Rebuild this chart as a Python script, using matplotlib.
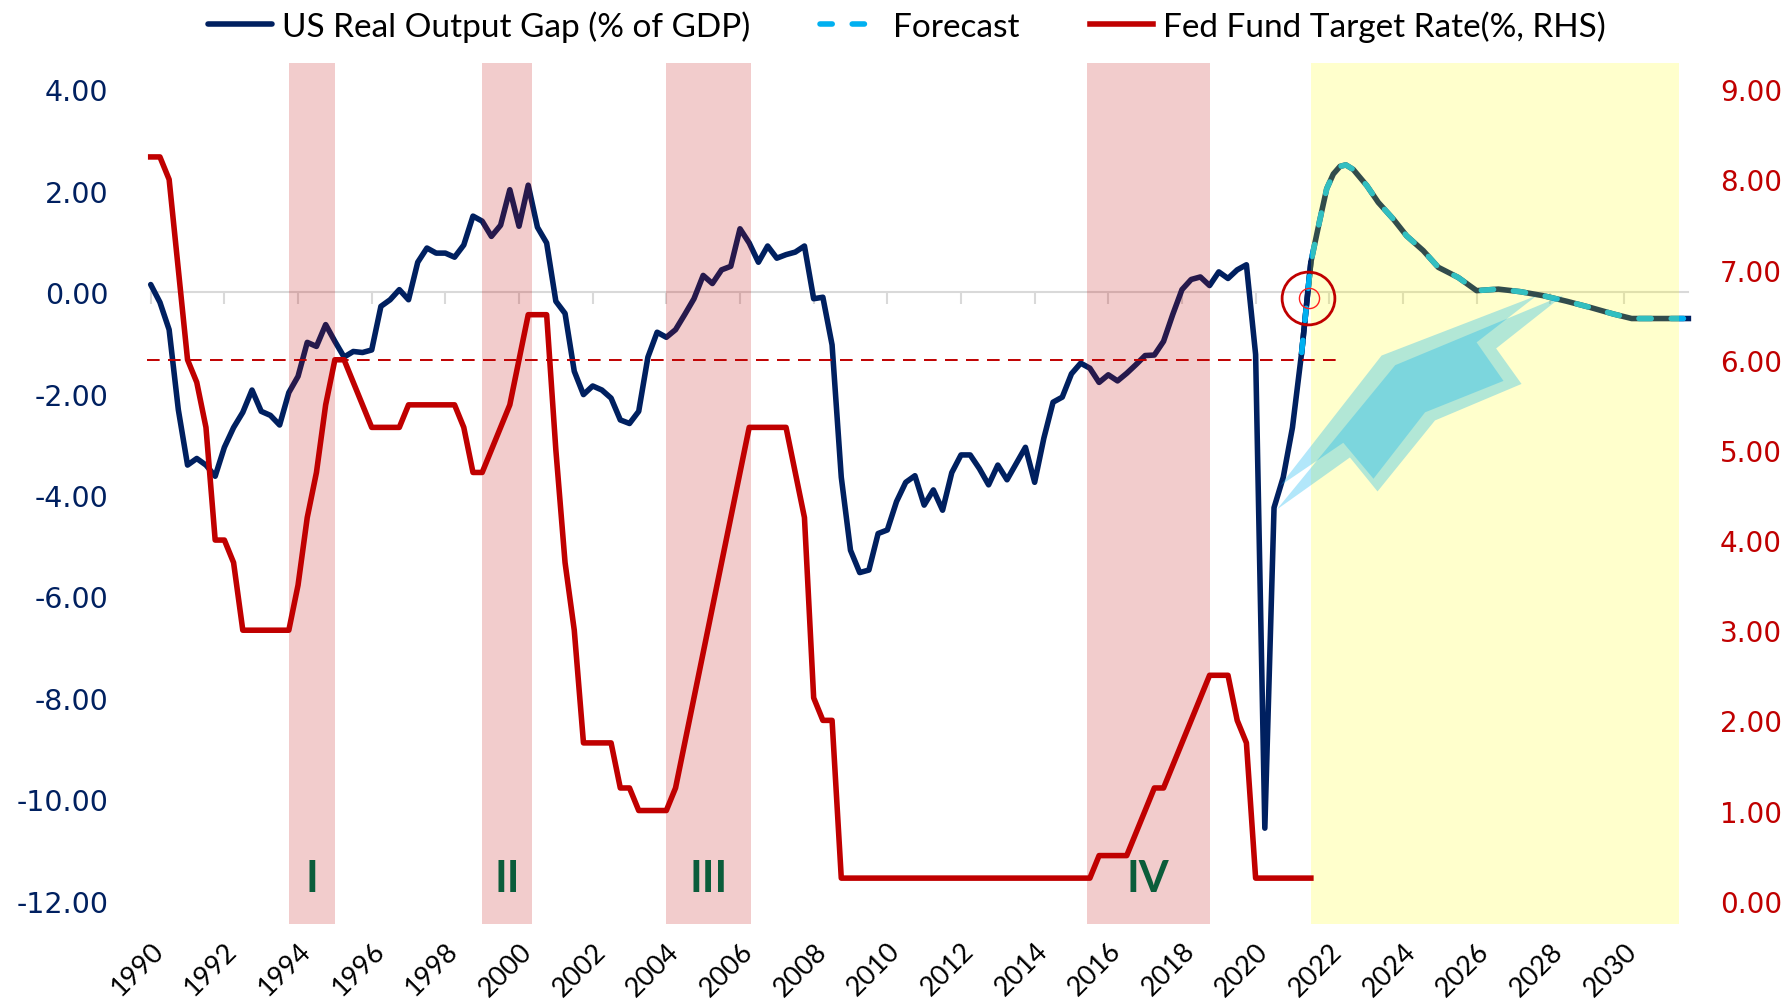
import numpy as np
import matplotlib.pyplot as plt
from matplotlib.patches import Polygon
from matplotlib.ticker import FuncFormatter

plt.rcParams['axes.unicode_minus'] = False

# US real output gap, % of GDP, quarterly from 1990Q1 to 2021Q3
gap_start = 1990.0
gap_hist = [
    0.15, -0.20, -0.74, -2.32,    # 1990
    -3.41, -3.28, -3.41, -3.63,   # 1991
    -3.06, -2.67, -2.37, -1.93,   # 1992
    -2.35, -2.43, -2.62, -1.98,   # 1993
    -1.66, -0.99, -1.07, -0.64,   # 1994
    -0.97, -1.28, -1.17, -1.19,   # 1995
    -1.14, -0.28, -0.15, 0.05,    # 1996
    -0.15, 0.59, 0.87, 0.77,      # 1997
    0.77, 0.69, 0.93, 1.50,       # 1998
    1.40, 1.10, 1.32, 2.02,       # 1999
    1.30, 2.11, 1.28, 0.97,       # 2000
    -0.18, -0.42, -1.56, -2.02,   # 2001
    -1.85, -1.93, -2.09, -2.52,   # 2002
    -2.59, -2.35, -1.28, -0.79,   # 2003
    -0.89, -0.74, -0.44, -0.13,   # 2004
    0.33, 0.17, 0.44, 0.51,       # 2005
    1.25, 0.97, 0.59, 0.91,       # 2006
    0.67, 0.74, 0.79, 0.91,       # 2007
    -0.13, -0.10, -1.04, -3.65,   # 2008
    -5.09, -5.53, -5.48, -4.76,   # 2009
    -4.69, -4.13, -3.75, -3.62,   # 2010
    -4.20, -3.90, -4.30, -3.56,   # 2011
    -3.21, -3.21, -3.48, -3.80,   # 2012
    -3.41, -3.70, -3.38, -3.06,   # 2013
    -3.75, -2.88, -2.17, -2.07,   # 2014
    -1.61, -1.40, -1.50, -1.78,   # 2015
    -1.63, -1.75, -1.60, -1.43,   # 2016
    -1.25, -1.24, -0.97, -0.44,   # 2017
    0.05, 0.25, 0.30, 0.13,       # 2018
    0.40, 0.27, 0.44, 0.54,       # 2019
    -1.23, -10.57, -4.25, -3.65,  # 2020
    -2.67, -1.19, 0.59,           # 2021
]

# forecast path of the output gap
fc_years = [2021.25, 2021.5, 2021.73, 2021.93, 2022.11, 2022.29, 2022.45, 2022.65,
            2023.02, 2023.33, 2023.74, 2024.10, 2024.55, 2024.96, 2025.5, 2026.0,
            2026.59, 2027.18, 2027.81, 2028.45, 2029.08, 2029.71, 2030.21, 2030.8, 2031.75]
fc_values = [-1.19, 0.59, 1.38, 2.04, 2.33, 2.48, 2.51, 2.42,
             2.10, 1.77, 1.44, 1.11, 0.82, 0.49, 0.29, 0.03,
             0.06, 0.01, -0.07, -0.18, -0.30, -0.43, -0.52, -0.52, -0.52]

# Fed fund target rate (%), right axis
fed_years = [1990.0, 1990.25, 1990.5, 1991.0, 1991.25, 1991.5, 1991.75, 1992.0, 1992.25, 1992.5,
             1993.75, 1994.0, 1994.25, 1994.5, 1994.75, 1995.0, 1995.25, 1995.5, 1996.0, 1996.75,
             1997.0, 1998.25, 1998.5, 1998.75, 1999.0, 1999.25, 1999.75, 2000.25, 2000.75, 2001.0,
             2001.25, 2001.5, 2001.75, 2002.5, 2002.75, 2003.0, 2003.25, 2004.0, 2004.25, 2004.5,
             2004.75, 2006.25, 2007.25, 2007.75, 2008.0, 2008.25, 2008.5, 2008.75, 2015.5, 2015.75,
             2016.5, 2016.75, 2017.25, 2017.5, 2017.75, 2018.75, 2019.25, 2019.5, 2019.75, 2020.0,
             2021.5]
fed_values = [8.25, 8.25, 8.0, 6.0, 5.75, 5.25, 4.0, 4.0, 3.75, 3.0,
              3.0, 3.5, 4.25, 4.75, 5.5, 6.0, 6.0, 5.75, 5.25, 5.25,
              5.5, 5.5, 5.25, 4.75, 4.75, 5.0, 5.5, 6.5, 6.5, 5.0,
              3.75, 3.0, 1.75, 1.75, 1.25, 1.25, 1.0, 1.0, 1.25, 1.75,
              2.25, 5.25, 5.25, 4.25, 2.25, 2.0, 2.0, 0.25, 0.25, 0.5,
              0.5, 0.75, 1.25, 1.25, 1.5, 2.5, 2.5, 2.0, 1.75, 0.25,
              0.25]

# tightening episodes and forecast window
band_names = ['I', 'II', 'III', 'IV']
band_start = [1993.75, 1999.0, 2004.0, 2015.42]
band_end = [1995.0, 2000.35, 2006.3, 2018.75]
forecast_window = (2021.5, 2031.5)
ref_rate = 6.0
tick_years = list(range(1990, 2031, 2))

NAVY = '#002060'
RED = '#C00000'
CYAN = '#00B0F0'

fig = plt.figure(figsize=(17.89, 10.04), dpi=100)
ax = fig.add_axes([0.0791, 0.0787, 0.8698, 0.8576])
ax2 = ax.twinx()

ylim = (-12.46, 4.52)
ax.set_xlim(1989.75, 2032.0)
ax.set_ylim(*ylim)
ax2.set_ylim((ylim[0] + 12) * 9 / 16, (ylim[1] + 12) * 9 / 16)

# zero axis line with small ticks
ax.plot([1990, 2031.75], [0, 0], color='#D9D9D9', lw=1.5, zorder=1)
ax.vlines(tick_years, -0.23, 0, color='#D9D9D9', lw=1.5, zorder=1)

gap_years = gap_start + 0.25 * np.arange(len(gap_hist))
h_gap, = ax.plot(gap_years, gap_hist, color=NAVY, lw=4.0, solid_joinstyle='round',
                 solid_capstyle='round', zorder=3, label='US Real Output Gap (% of GDP)')
ax.plot(fc_years, fc_values, color=NAVY, lw=4.0, solid_joinstyle='round', zorder=3)
h_fc, = ax.plot(fc_years, fc_values, color=CYAN, lw=4.0, linestyle=(0, (2.2, 3.6)),
                dash_capstyle='round', zorder=3.5, label='Forecast')

for s, e in zip(band_start, band_end):
    ax.axvspan(s, e, color=RED, alpha=0.2, lw=0, zorder=4)
ax.axvspan(*forecast_window, color='#FFFF00', alpha=0.2, lw=0, zorder=4)

# arrow decoration (two offset copies)
arrow_a = [(2020.57, -4.29), (2023.79, -1.44), (2028.36, -0.06), (2026.53, -1.11),
           (2027.22, -1.81), (2024.87, -2.53), (2023.31, -3.93), (2022.56, -3.26)]
arrow_b = [(2020.66, -3.82), (2023.42, -1.25), (2027.63, -0.07), (2026.0, -0.99),
           (2026.73, -1.75), (2024.6, -2.37), (2023.2, -3.68), (2022.38, -2.97)]
for pts in (arrow_a, arrow_b):
    ax.add_patch(Polygon(pts, closed=True, facecolor=CYAN, alpha=0.3, lw=0, zorder=5))

for name, s, e in zip(band_names, band_start, band_end):
    ax.text((s + e) / 2, -11.55, name, ha='center', va='center', fontsize=31,
            fontweight='bold', color='#0B5D3B', family='Lato', zorder=6)

# highlight circle at the crossing
ax.plot([2021.43], [-0.11], 'o', ms=38, mfc='none', mec=RED, mew=2.0, zorder=6)
ax.plot([2021.45], [-0.11], 'o', ms=14.5, mfc='none', mec='#FF2020', mew=1.0, zorder=6)

h_fed, = ax2.plot(fed_years, fed_values, color=RED, lw=4.0, solid_joinstyle='round',
                  label='Fed Fund Target Rate(%, RHS)')
ax2.hlines(ref_rate, 1989.9, 2022.35, color=RED, lw=1.4, linestyles=[(0, (6.5, 4.3))])

for a in (ax, ax2):
    for sp in a.spines.values():
        sp.set_visible(False)

ax.set_yticks(range(-12, 5, 2))
ax.yaxis.set_major_formatter(FuncFormatter(lambda v, p: f'{v:.2f}'))
ax.tick_params(axis='y', length=0, pad=24, labelsize=20.5, labelcolor=NAVY)
ax2.set_yticks(range(0, 10))
ax2.yaxis.set_major_formatter(FuncFormatter(lambda v, p: f'{v:.2f}'))
ax2.tick_params(axis='y', length=0, pad=16, labelsize=20, labelcolor=RED)

ax.set_xticks(tick_years)
ax.set_xticklabels([str(y) for y in tick_years], rotation=45, ha='right', va='top',
                   rotation_mode='anchor', family='Lato', fontsize=19.5)
ax.tick_params(axis='x', length=0, pad=10)

handles = [h_gap, h_fc, h_fed]
fig.legend(handles=handles, labels=[h.get_label() for h in handles],
           loc='upper center', bbox_to_anchor=(0.507, 1.019), ncol=3, frameon=False,
           prop={'family': 'Lato', 'size': 24}, handlelength=1.9, handletextpad=0.3,
           columnspacing=2.1)

fig.savefig('out.png', dpi=100)
